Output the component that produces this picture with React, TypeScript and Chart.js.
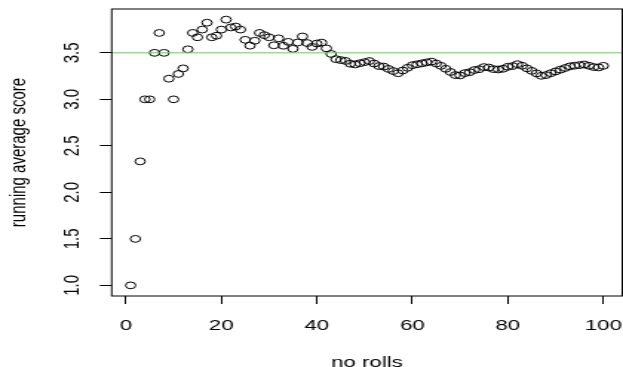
import React, { useEffect, useRef } from "react";
import { Chart, registerables } from "chart.js";

Chart.register(...registerables);

// Running average of the score after each roll (roll 1 .. 100)
const runningAverage: number[] = [
  1.0, 1.5, 2.333, 3.0, 3.0, 3.5, 3.714, 3.5, 3.222, 3.0,
  3.273, 3.333, 3.538, 3.714, 3.667, 3.75, 3.824, 3.667, 3.684, 3.75,
  3.857, 3.773, 3.783, 3.75, 3.64, 3.577, 3.63, 3.714, 3.69, 3.667,
  3.581, 3.656, 3.576, 3.618, 3.543, 3.611, 3.676, 3.605, 3.564, 3.6,
  3.61, 3.548, 3.488, 3.432, 3.422, 3.413, 3.383, 3.375, 3.388, 3.4,
  3.412, 3.385, 3.358, 3.352, 3.327, 3.304, 3.281, 3.31, 3.339, 3.367,
  3.377, 3.387, 3.397, 3.406, 3.385, 3.36, 3.328, 3.294, 3.261, 3.257,
  3.282, 3.292, 3.315, 3.324, 3.347, 3.342, 3.325, 3.321, 3.329, 3.35,
  3.358, 3.378, 3.361, 3.333, 3.306, 3.279, 3.253, 3.261, 3.281, 3.3,
  3.319, 3.337, 3.355, 3.362, 3.368, 3.375, 3.361, 3.347, 3.343, 3.36,
];

const xTickValues: number[] = [0, 20, 40, 60, 80, 100];
const yTickValues: number[] = [1.0, 1.5, 2.0, 2.5, 3.0, 3.5];
const referenceLine = 3.5;
const xTitle = "no rolls";
const yTitle = "running average score";

const FONT = "'Liberation Sans', Arial, Helvetica, sans-serif";
const INTERNAL_W = 420;
const H = 367;

export default function App() {
  const ref = useRef<HTMLCanvasElement | null>(null);

  useEffect(() => {
    if (!ref.current) return;
    const n = runningAverage.length;
    const xPad = 0.04 * (n - 1);
    const xMin = 1 - xPad;
    const xMax = n + xPad;
    const yLo = Math.min(...runningAverage);
    const yHi = Math.max(...runningAverage);
    const yPad = 0.04 * (yHi - yLo);
    const yMin = yLo - yPad;
    const yMax = yHi + yPad;

    const points = runningAverage.map((v, i) => ({ x: i + 1, y: v }));

    const boxPlugin = {
      id: "rbox",
      afterDatasetsDraw(chart: any) {
        const { ctx, chartArea } = chart;
        ctx.save();
        ctx.strokeStyle = "#000";
        ctx.lineWidth = 1;
        ctx.strokeRect(
          chartArea.left,
          chartArea.top,
          chartArea.right - chartArea.left,
          chartArea.bottom - chartArea.top
        );
        ctx.restore();
      },
    };

    const font = { family: FONT, size: 15, lineHeight: 1 };

    const chart = new Chart(ref.current, {
      type: "scatter",
      data: {
        datasets: [
          {
            type: "line",
            data: [
              { x: xMin, y: referenceLine },
              { x: xMax, y: referenceLine },
            ],
            borderColor: "#61D04F",
            borderWidth: 1,
            pointRadius: 0,
            order: 1,
          } as any,
          {
            type: "scatter",
            data: points,
            pointStyle: "circle",
            pointRadius: 3.4,
            pointBorderWidth: 1,
            borderColor: "#000",
            pointBorderColor: "#000",
            backgroundColor: "rgba(0,0,0,0)",
            pointBackgroundColor: "rgba(0,0,0,0)",
            order: 2,
          } as any,
        ],
      },
      options: {
        responsive: false,
        maintainAspectRatio: false,
        devicePixelRatio: 1,
        animation: false,
        layout: { autoPadding: false, padding: { top: 9, right: 0.5, left: 0, bottom: 0 } },
        plugins: {
          legend: { display: false },
          tooltip: { enabled: false },
          title: { display: false },
        },
        scales: {
          x: {
            type: "linear",
            min: xMin,
            max: xMax,
            afterBuildTicks: (s: any) => {
              s.ticks = xTickValues.map((v) => ({ value: v }));
            },
            afterFit: (s: any) => {
              s.height = 71;
              s.paddingLeft = 0;
              s.paddingRight = 0;
            },
            grid: {
              display: true,
              drawOnChartArea: false,
              drawTicks: true,
              tickLength: 8,
              color: "#000",
              lineWidth: 1,
            },
            border: { display: false },
            ticks: {
              color: "#000",
              font,
              padding: 14,
              minRotation: 0,
              maxRotation: 0,
              autoSkip: false,
              callback: (v: any) => String(v),
            },
            title: {
              display: true,
              text: xTitle,
              color: "#000",
              font,
              padding: { top: 0, bottom: -3 },
            },
          },
          y: {
            type: "linear",
            min: yMin,
            max: yMax,
            afterBuildTicks: (s: any) => {
              s.ticks = yTickValues.map((v) => ({ value: v }));
            },
            afterFit: (s: any) => {
              s.width = 75.3;
              s.paddingTop = 0;
              s.paddingBottom = 0;
            },
            grid: {
              display: true,
              drawOnChartArea: false,
              drawTicks: true,
              tickLength: 8,
              color: "#000",
              lineWidth: 1,
            },
            border: { display: false },
            ticks: {
              color: "#000",
              font,
              padding: 8.5,
              minRotation: 90,
              maxRotation: 90,
              crossAlign: "center",
              autoSkip: false,
              callback: (v: any) => Number(v).toFixed(1),
            },
            title: {
              display: true,
              text: yTitle,
              color: "#000",
              font,
              padding: { top: 5.5, bottom: 0 },
            },
          },
        },
      } as any,
      plugins: [boxPlugin],
    });

    return () => chart.destroy();
  }, []);

  return (
    <div style={{ position: "fixed", left: 0, top: 0, width: 623, height: H, background: "#fff" }}>
      <canvas
        ref={ref}
        width={INTERNAL_W}
        height={H}
        style={{ display: "block", width: "623px", height: `${H}px` }}
      />
    </div>
  );
}
